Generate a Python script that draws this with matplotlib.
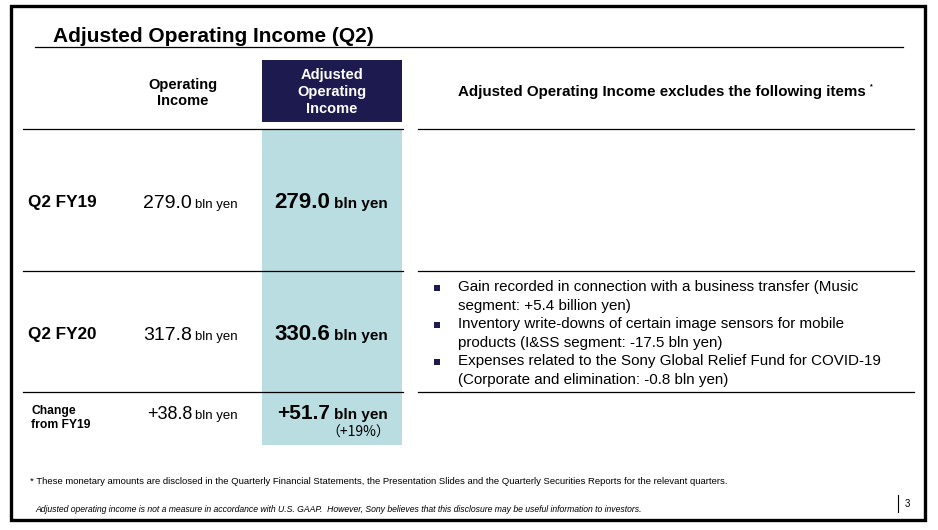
import matplotlib.pyplot as plt
from matplotlib.patches import Rectangle

plt.rcParams['font.family'] = ['Liberation Sans', 'DejaVu Sans']

title = "Adjusted Operating Income (Q2)"
col_headers = ["Operating\nIncome", "Adjusted\nOperating\nIncome"]
right_header = "Adjusted Operating Income excludes the following items"
row_labels = ["Q2 FY19", "Q2 FY20", "Change\nfrom FY19"]
op_income = ["279.0", "317.8", "+38.8"]
adj_income = ["279.0", "330.6", "+51.7"]
adj_change_pct = "+19%"
unit = "bln yen"
excluded_items = [
    "Gain recorded in connection with a business transfer (Music\nsegment: +5.4 billion yen)",
    "Inventory write-downs of certain image sensors for mobile\nproducts (I&SS segment: -17.5 bln yen)",
    "Expenses related to the Sony Global Relief Fund for COVID-19\n(Corporate and elimination: -0.8 bln yen)",
]
footnote = ("* These monetary amounts are disclosed in the Quarterly Financial Statements, "
            "the Presentation Slides and the Quarterly Securities Reports for the relevant quarters.")
disclaimer = ("Adjusted operating income is not a measure in accordance with U.S. GAAP.  "
              "However, Sony believes that this disclosure may be useful information to investors.")
page_no = "3"

navy = "#1c1a4e"
light_blue = "#b9dde1"

fig = plt.figure(figsize=(9.38, 5.30), dpi=100)
ax = fig.add_axes([0, 0, 1, 1])
ax.set_xlim(0, 938)
ax.set_ylim(530, 0)
ax.axis("off")

# slide frame
ax.add_patch(Rectangle((11, 6), 914, 514, fill=False, edgecolor="black", lw=2.4))

# title
ax.text(53, 36, title, fontsize=15, fontweight="bold", va="center", ha="left")
ax.plot([35, 903], [47, 47], color="black", lw=0.9)

# column shading
ax.add_patch(Rectangle((262, 60), 140, 62, color=navy, lw=0))
ax.add_patch(Rectangle((262, 129), 140, 316, color=light_blue, lw=0))

# headers
ax.text(183, 93, col_headers[0], fontsize=10.5, fontweight="bold", ha="center",
        va="center", linespacing=1.25)
ax.text(332, 92, col_headers[1], fontsize=10.5, fontweight="bold", ha="center",
        va="center", color="white", linespacing=1.25)
ax.text(458, 92, right_header, fontsize=10.9, fontweight="bold", ha="left", va="center")
ax.text(870, 87, "*", fontsize=5, fontweight="bold", ha="left", va="center")

# rule lines
for y in [129, 271, 392]:
    ax.plot([23, 403], [y, y], color="black", lw=0.9)
    ax.plot([418, 914], [y, y], color="black", lw=0.9)

# rows
row_y = [202, 334, 413]
for i, y in enumerate(row_y):
    if i < 2:
        ax.text(28, y, row_labels[i], fontsize=12.3, fontweight="bold", va="center")
    else:
        ax.text(31, y + 5, row_labels[i], fontsize=8.7, fontweight="bold", va="center",
                linespacing=1.15)
    big = 14 if i < 2 else 13
    ax.text(192, y + 6, op_income[i], fontsize=big, ha="right", va="baseline")
    ax.text(195, y + 6, unit, fontsize=9.5, ha="left", va="baseline")
    ax.text(330, y + 6, adj_income[i], fontsize=16 if i < 2 else 15, fontweight="bold",
            ha="right", va="baseline")
    ax.text(334, y + 6, unit, fontsize=11, fontweight="bold", ha="left", va="baseline")

ax.text(358, 433, "\uff08" + adj_change_pct + "\uff09", fontsize=10, ha="center", va="center",
        family=["Noto Sans CJK JP", "DejaVu Sans"])

# excluded items
line_h = 18.6
y0 = 287
for k, item in enumerate(excluded_items):
    yy = y0 + k * 2 * line_h
    ax.add_patch(Rectangle((434, yy - 2.5), 6, 6, color=navy, lw=0))
    for j, ln in enumerate(item.split("\n")):
        ax.text(458, yy + j * line_h, ln, fontsize=10.9, va="center", ha="left")

# footnotes
ax.text(30, 481, footnote, fontsize=6.8, va="center", ha="left")
ax.text(35, 509, disclaimer, fontsize=6.2, style="italic", va="center", ha="left")
ax.plot([898, 898], [495, 512], color="black", lw=0.8)
ax.text(905, 504, page_no, fontsize=7, va="center", ha="left")

fig.savefig("out.png", dpi=100)
